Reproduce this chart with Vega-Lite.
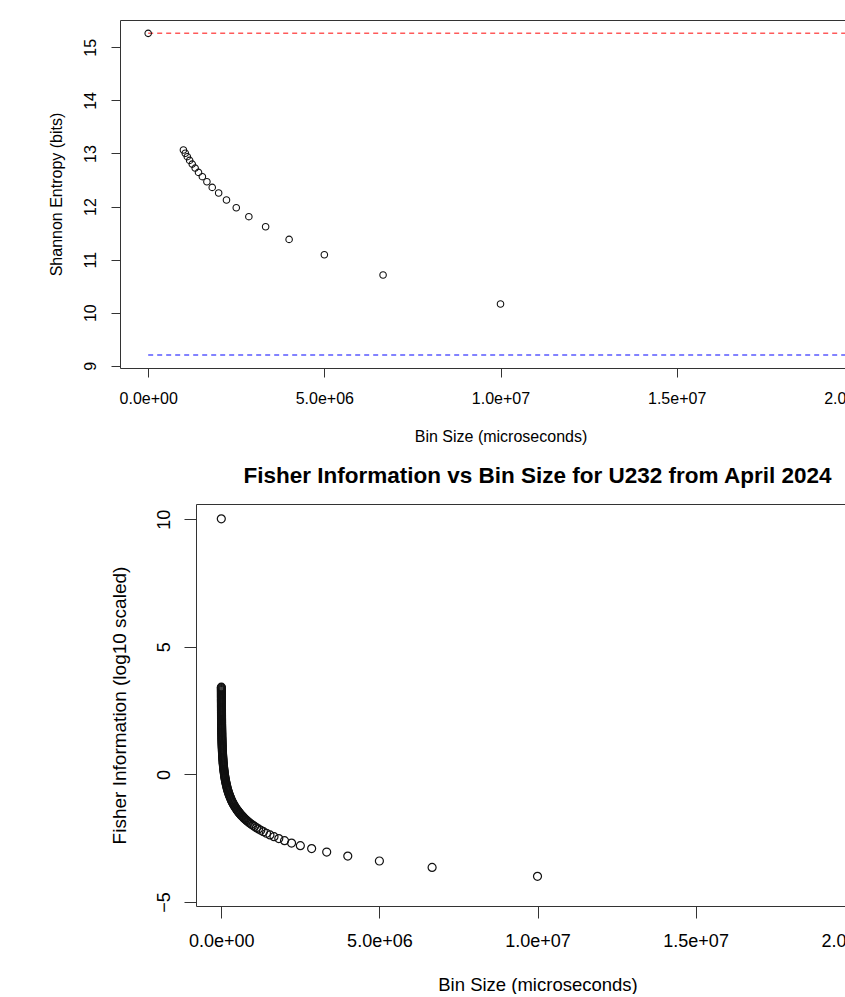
{
  "$schema": "https://vega.github.io/schema/vega-lite/v6.json",
  "background": "white",
  "padding": {"left": 10, "top": 19, "right": 0, "bottom": 0},
  "spacing": 19,
  "config": {
    "font": "Liberation Sans",
    "view": {"stroke": "#333333", "strokeWidth": 1},
    "axis": {
      "domain": false,
      "grid": false,
      "labelFont": "Liberation Sans",
      "titleFont": "Liberation Sans",
      "labelColor": "black",
      "titleColor": "black",
      "tickColor": "#333333",
      "titleFontWeight": "normal",
      "labelFlush": false,
      "labelOverlap": false
    }
  },
  "datasets": {
    "refs": [
      {"bin": 0, "bin2": 20000000, "H": 15.264, "line": "max"},
      {"bin": 0, "bin2": 20000000, "H": 9.2, "line": "min"}
    ],
    "entropy": [
      {"bin": 1, "H": 15.264},
      {"bin": 1000000, "H": 13.066},
      {"bin": 1052632, "H": 13.005},
      {"bin": 1111111, "H": 12.94},
      {"bin": 1176471, "H": 12.87},
      {"bin": 1250000, "H": 12.8},
      {"bin": 1333333, "H": 12.725},
      {"bin": 1428571, "H": 12.644},
      {"bin": 1538462, "H": 12.563},
      {"bin": 1666667, "H": 12.468},
      {"bin": 1818182, "H": 12.361},
      {"bin": 2000000, "H": 12.255},
      {"bin": 2222222, "H": 12.123},
      {"bin": 2500000, "H": 11.978},
      {"bin": 2857143, "H": 11.809},
      {"bin": 3333333, "H": 11.62},
      {"bin": 4000000, "H": 11.381},
      {"bin": 5000000, "H": 11.092},
      {"bin": 6666667, "H": 10.71},
      {"bin": 10000000, "H": 10.163},
      {"bin": 20000000, "H": 9.2}
    ],
    "fisher": [
      {"bin": 1, "F": 10.02},
      {"bin": 20000000, "F": -4.58},
      {"bin": 10000000, "F": -3.998},
      {"bin": 6666667, "F": -3.646},
      {"bin": 5000000, "F": -3.396},
      {"bin": 4000000, "F": -3.202},
      {"bin": 3333333, "F": -3.044},
      {"bin": 2857143, "F": -2.91},
      {"bin": 2500000, "F": -2.794},
      {"bin": 2222222, "F": -2.692},
      {"bin": 2000000, "F": -2.6},
      {"bin": 1818182, "F": -2.517},
      {"bin": 1666667, "F": -2.442},
      {"bin": 1538462, "F": -2.372},
      {"bin": 1428571, "F": -2.308},
      {"bin": 1333333, "F": -2.248},
      {"bin": 1250000, "F": -2.192},
      {"bin": 1176471, "F": -2.139},
      {"bin": 1111111, "F": -2.089},
      {"bin": 1052632, "F": -2.042},
      {"bin": 1000000, "F": -1.998},
      {"bin": 952381, "F": -1.956},
      {"bin": 909091, "F": -1.915},
      {"bin": 869565, "F": -1.877},
      {"bin": 833333, "F": -1.84},
      {"bin": 800000, "F": -1.804},
      {"bin": 769231, "F": -1.77},
      {"bin": 740741, "F": -1.737},
      {"bin": 714286, "F": -1.706},
      {"bin": 689655, "F": -1.675},
      {"bin": 666667, "F": -1.646},
      {"bin": 645161, "F": -1.617},
      {"bin": 625000, "F": -1.59},
      {"bin": 606061, "F": -1.563},
      {"bin": 588235, "F": -1.537},
      {"bin": 571429, "F": -1.512},
      {"bin": 555556, "F": -1.487},
      {"bin": 540541, "F": -1.464},
      {"bin": 526316, "F": -1.44},
      {"bin": 512821, "F": -1.418},
      {"bin": 500000, "F": -1.396},
      {"bin": 479770, "F": -1.36},
      {"bin": 458170, "F": -1.32},
      {"bin": 437550, "F": -1.28},
      {"bin": 417860, "F": -1.24},
      {"bin": 399050, "F": -1.2},
      {"bin": 381090, "F": -1.16},
      {"bin": 363940, "F": -1.12},
      {"bin": 347560, "F": -1.08},
      {"bin": 331910, "F": -1.04},
      {"bin": 316980, "F": -1.0},
      {"bin": 302720, "F": -0.96},
      {"bin": 289080, "F": -0.92},
      {"bin": 276070, "F": -0.88},
      {"bin": 263650, "F": -0.84},
      {"bin": 251780, "F": -0.8},
      {"bin": 240450, "F": -0.76},
      {"bin": 229630, "F": -0.72},
      {"bin": 219300, "F": -0.68},
      {"bin": 209420, "F": -0.64},
      {"bin": 200000, "F": -0.6},
      {"bin": 191000, "F": -0.56},
      {"bin": 182400, "F": -0.52},
      {"bin": 174200, "F": -0.48},
      {"bin": 166350, "F": -0.44},
      {"bin": 158870, "F": -0.4},
      {"bin": 151720, "F": -0.36},
      {"bin": 144880, "F": -0.32},
      {"bin": 138360, "F": -0.28},
      {"bin": 132140, "F": -0.24},
      {"bin": 126190, "F": -0.2},
      {"bin": 120510, "F": -0.16},
      {"bin": 115090, "F": -0.12},
      {"bin": 109910, "F": -0.08},
      {"bin": 104960, "F": -0.04},
      {"bin": 100240, "F": 0.0},
      {"bin": 95730, "F": 0.04},
      {"bin": 91420, "F": 0.08},
      {"bin": 87300, "F": 0.12},
      {"bin": 83370, "F": 0.16},
      {"bin": 79620, "F": 0.2},
      {"bin": 76040, "F": 0.24},
      {"bin": 72620, "F": 0.28},
      {"bin": 69350, "F": 0.32},
      {"bin": 66230, "F": 0.36},
      {"bin": 63250, "F": 0.4},
      {"bin": 60400, "F": 0.44},
      {"bin": 57680, "F": 0.48},
      {"bin": 55090, "F": 0.52},
      {"bin": 52600, "F": 0.56},
      {"bin": 50240, "F": 0.6},
      {"bin": 47980, "F": 0.64},
      {"bin": 45820, "F": 0.68},
      {"bin": 43750, "F": 0.72},
      {"bin": 41790, "F": 0.76},
      {"bin": 39900, "F": 0.8},
      {"bin": 38110, "F": 0.84},
      {"bin": 36390, "F": 0.88},
      {"bin": 34750, "F": 0.92},
      {"bin": 33190, "F": 0.96},
      {"bin": 31700, "F": 1.0},
      {"bin": 30270, "F": 1.04},
      {"bin": 28910, "F": 1.08},
      {"bin": 27610, "F": 1.12},
      {"bin": 26370, "F": 1.16},
      {"bin": 25180, "F": 1.2},
      {"bin": 24050, "F": 1.24},
      {"bin": 22960, "F": 1.28},
      {"bin": 21930, "F": 1.32},
      {"bin": 20940, "F": 1.36},
      {"bin": 20000, "F": 1.4},
      {"bin": 19100, "F": 1.44},
      {"bin": 18240, "F": 1.48},
      {"bin": 17420, "F": 1.52},
      {"bin": 16630, "F": 1.56},
      {"bin": 15890, "F": 1.6},
      {"bin": 15170, "F": 1.64},
      {"bin": 14490, "F": 1.68},
      {"bin": 13840, "F": 1.72},
      {"bin": 13210, "F": 1.76},
      {"bin": 12620, "F": 1.8},
      {"bin": 12050, "F": 1.84},
      {"bin": 11510, "F": 1.88},
      {"bin": 10990, "F": 1.92},
      {"bin": 10500, "F": 1.96},
      {"bin": 10020, "F": 2.0},
      {"bin": 9570, "F": 2.04},
      {"bin": 9140, "F": 2.08},
      {"bin": 8730, "F": 2.12},
      {"bin": 8340, "F": 2.16},
      {"bin": 7960, "F": 2.2},
      {"bin": 7600, "F": 2.24},
      {"bin": 7260, "F": 2.28},
      {"bin": 6940, "F": 2.32},
      {"bin": 6620, "F": 2.36},
      {"bin": 6330, "F": 2.4},
      {"bin": 6040, "F": 2.44},
      {"bin": 5770, "F": 2.48},
      {"bin": 5510, "F": 2.52},
      {"bin": 5260, "F": 2.56},
      {"bin": 5020, "F": 2.6},
      {"bin": 4800, "F": 2.64},
      {"bin": 4580, "F": 2.68},
      {"bin": 4380, "F": 2.72},
      {"bin": 4180, "F": 2.76},
      {"bin": 3990, "F": 2.8},
      {"bin": 3810, "F": 2.84},
      {"bin": 3640, "F": 2.88},
      {"bin": 3480, "F": 2.92},
      {"bin": 3320, "F": 2.96},
      {"bin": 3170, "F": 3.0},
      {"bin": 3030, "F": 3.04},
      {"bin": 2890, "F": 3.08},
      {"bin": 2760, "F": 3.12},
      {"bin": 2640, "F": 3.16},
      {"bin": 2520, "F": 3.2},
      {"bin": 2400, "F": 3.24},
      {"bin": 2300, "F": 3.28},
      {"bin": 2190, "F": 3.32},
      {"bin": 2090, "F": 3.36},
      {"bin": 2000, "F": 3.4},
      {"bin": 1960, "F": 3.42}
    ]
  },
  "vconcat": [
    {
      "spacing": 0,
      "hconcat": [
        {
          "width": 37,
          "height": 10,
          "data": {"values": []},
          "mark": {"type": "point"},
          "view": {"stroke": null}
        },
        {
          "width": 761,
          "height": 348,
          "encoding": {
            "x": {
              "field": "bin",
              "type": "quantitative",
              "scale": {"domain": [-800000, 20800000], "nice": false, "zero": false},
              "axis": {
                "title": "Bin Size (microseconds)",
                "values": [0, 5000000, 10000000, 15000000, 20000000],
                "labelExpr": "replace(format(datum.value, '.1e'), 'e+', 'e+0')",
                "tickSize": 9,
                "labelPadding": 13,
                "labelFontSize": 16,
                "titleFontSize": 16,
                "titlePadding": 22
              }
            },
            "y": {
              "field": "H",
              "type": "quantitative",
              "scale": {"domain": [8.957, 15.516], "nice": false, "zero": false},
              "axis": {
                "title": "Shannon Entropy (bits)",
                "values": [9, 10, 11, 12, 13, 14, 15],
                "labelAngle": -90,
                "labelAlign": "center",
                "labelBaseline": "alphabetic",
                "tickSize": 9,
                "labelPadding": 16,
                "labelFontSize": 16,
                "titleFontSize": 16,
                "titlePadding": 18
              }
            }
          },
          "layer": [
            {
              "data": {"name": "refs"},
              "mark": {"type": "rule", "strokeDash": [5, 4], "strokeWidth": 1.5},
              "encoding": {
                "x2": {"field": "bin2"},
                "color": {
                  "field": "line",
                  "type": "nominal",
                  "scale": {"domain": ["max", "min"], "range": ["#ff5a5a", "#5a5aff"]},
                  "legend": null
                }
              }
            },
            {
              "data": {"name": "entropy"},
              "mark": {"type": "point", "shape": "circle", "size": 42, "strokeWidth": 1.1, "color": "#111111", "filled": false, "opacity": 1}
            }
          ]
        }
      ]
    },
    {
      "spacing": 0,
      "hconcat": [
        {
          "width": 99,
          "height": 10,
          "data": {"values": []},
          "mark": {"type": "point"},
          "view": {"stroke": null}
        },
        {
          "width": 683,
          "height": 402,
          "title": {
            "text": "Fisher Information vs Bin Size for U232 from April 2024",
            "font": "Liberation Sans",
            "fontSize": 22.5,
            "fontWeight": "bold",
            "color": "black",
            "anchor": "middle",
            "frame": "group",
            "offset": 17
          },
          "data": {"name": "fisher"},
          "mark": {"type": "point", "shape": "circle", "size": 64, "strokeWidth": 1.2, "color": "#111111", "filled": false, "opacity": 1},
          "encoding": {
            "x": {
              "field": "bin",
              "type": "quantitative",
              "scale": {"domain": [-800000, 20800000], "nice": false, "zero": false},
              "axis": {
                "title": "Bin Size (microseconds)",
                "values": [0, 5000000, 10000000, 15000000, 20000000],
                "labelExpr": "replace(format(datum.value, '.1e'), 'e+', 'e+0')",
                "tickSize": 12,
                "labelPadding": 14,
                "labelFontSize": 18,
                "titleFontSize": 18.5,
                "titlePadding": 25
              }
            },
            "y": {
              "field": "F",
              "type": "quantitative",
              "scale": {"domain": [-5.16, 10.6], "nice": false, "zero": false},
              "axis": {
                "title": "Fisher Information (log10 scaled)",
                "values": [-5, 0, 5, 10],
                "labelAngle": -90,
                "labelAlign": "center",
                "labelBaseline": "alphabetic",
                "tickSize": 12,
                "labelPadding": 15,
                "labelFontSize": 18,
                "titleFontSize": 19,
                "titlePadding": 26
              }
            }
          }
        }
      ]
    }
  ]
}
